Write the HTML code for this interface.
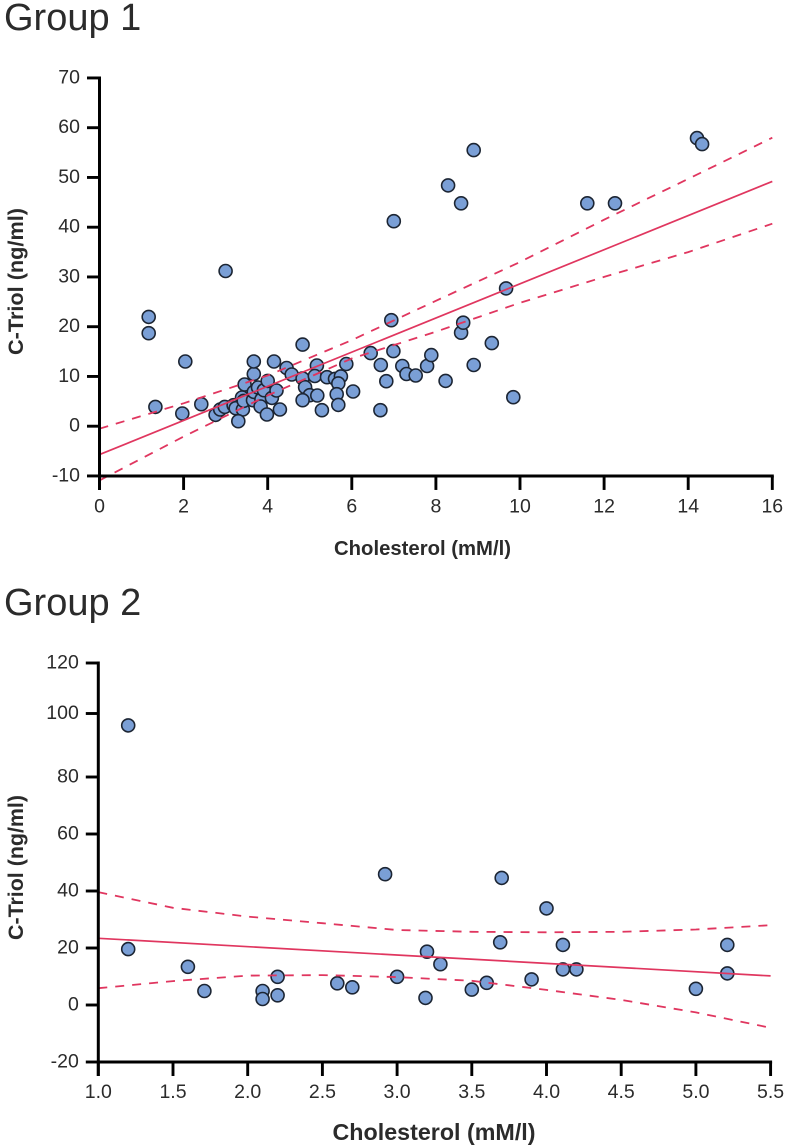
<!DOCTYPE html>
<html lang="en">
<head>
<meta charset="utf-8">
<title>C-Triol vs Cholesterol</title>
<style>
html,body{margin:0;padding:0;background:#fff;width:787px;height:1147px;overflow:hidden}
svg{display:block;font-family:"Liberation Sans",sans-serif}
</style>
</head>
<body>
<svg id="figure" width="787" height="1147" viewBox="0 0 787 1147" xmlns="http://www.w3.org/2000/svg">
  <text x="4" y="30" font-size="38" fill="#2b2b2b">Group 1</text>
  <text x="4" y="615" font-size="38" fill="#2b2b2b">Group 2</text>
  <g id="chart1"></g>
  <g id="chart2"></g>
</svg>
<script>
const g1PointsX = [1.17,1.17,1.33,1.97,2.04,2.42,3.0,2.76,2.87,2.98,3.19,3.24,3.41,3.30,3.39,3.43,3.45,3.65,3.67,3.67,3.67,3.77,3.85,3.83,3.91,4.0,3.98,4.1,4.21,4.29,4.15,4.45,4.57,4.83,4.83,4.89,5.0,4.83,5.18,5.17,5.12,5.29,5.41,5.6,5.74,5.68,5.64,5.68,5.87,6.03,6.45,6.69,6.82,6.68,6.99,6.94,7.0,7.2,7.3,7.52,7.79,7.89,8.23,8.29,8.6,8.6,8.65,8.9,8.9,9.33,9.67,9.84,11.6,12.26,14.21,14.33];
const g1PointsY = [21.97,18.7,3.88,2.55,13.0,4.43,31.2,2.27,3.36,3.88,4.22,3.62,3.36,1.0,5.77,5.09,8.38,5.23,6.9,10.5,13.0,7.78,5.37,3.96,7.24,9.1,2.35,5.69,7.18,3.36,13.0,11.7,10.4,16.4,9.6,7.84,6.23,5.23,6.17,12.2,10.1,3.22,9.85,9.5,10.0,8.6,6.43,4.28,12.5,6.98,14.7,12.3,9.05,3.22,15.1,21.3,41.2,12.1,10.5,10.2,12.1,14.3,9.1,48.4,44.8,18.8,20.8,55.5,12.3,16.7,27.7,5.83,44.8,44.8,57.9,56.7];
const g1FitX = [0,16];
const g1FitY = [-5.7,49.2];
const g1BandX = [0,2,4,6,8,10,12,14,16];
const g1UpperY = [-0.5,4.6,10.2,17.3,25.2,33,41.5,49.7,58];
const g1LowerY = [-10.9,-2.1,6.2,13.6,19,24.8,30,35,40.7];
const g1TicksX = [0,2,4,6,8,10,12,14,16];
const g1TicksY = [-10,0,10,20,30,40,50,60,70];

const g2PointsX = [1.2,1.2,1.6,1.71,2.10,2.10,2.2,2.2,2.6,2.7,2.92,3.0,3.19,3.2,3.29,3.5,3.6,3.69,3.7,3.9,4.0,4.11,4.11,4.2,5.0,5.21,5.21];
const g2PointsY = [98.1,19.6,13.4,4.9,4.9,2.1,9.9,3.4,7.6,6.2,45.9,9.9,2.5,18.7,14.3,5.4,7.8,22,44.6,9.0,33.9,21.1,12.5,12.5,5.7,21.1,11.1];
const g2FitX = [1,5.5];
const g2FitY = [23.4,10.2];
const g2BandX = [1,1.5,2,2.5,3,3.5,4,4.5,5,5.5];
const g2UpperY = [39.6,34.1,31,28.7,26.3,25.7,25.5,25.7,26.5,28];
const g2LowerY = [5.9,8.4,10.3,10.5,9.8,8.5,5.3,1.8,-2.6,-8];
const g2TicksX = [1,1.5,2,2.5,3,3.5,4,4.5,5,5.5];
const g2TicksY = [-20,0,20,40,60,80,100,120];
const xTitleText = "Cholesterol (mM/l)";
const yTitleText = "C-Triol (ng/ml)";

const NS = "http://www.w3.org/2000/svg";
function make(tag, attrs, parent, text) {
  const el = document.createElementNS(NS, tag);
  for (const k in attrs) el.setAttribute(k, attrs[k]);
  if (text !== undefined) el.textContent = text;
  parent.appendChild(el);
  return el;
}
function pathFrom(xs, ys, sx, sy) {
  return xs.map((v, i) => (i ? "L" : "M") + sx(v).toFixed(1) + " " + sy(ys[i]).toFixed(1)).join(" ");
}
function drawChart(cfg) {
  const root = document.getElementById(cfg.id);
  const sx = cfg.sx, sy = cfg.sy;
  const x0 = sx(cfg.ticksX[0]), x1 = sx(cfg.ticksX[cfg.ticksX.length - 1]);
  const yB = sy(cfg.ticksY[0]), yT = sy(cfg.ticksY[cfg.ticksY.length - 1]);

  const points = make("g", {}, root);
  
  
  cfg.px.forEach((v, i) => {
    const c = make("circle", {cx: sx(v).toFixed(1), cy: sy(cfg.py[i]).toFixed(1), r: 6.5, fill: "#7a9fd6", stroke: "#1c2533", "stroke-width": 1.6}, points);
    
    
  });

  const fit = make("path", {d: pathFrom(cfg.fitX, cfg.fitY, sx, sy), fill: "none", stroke: "#e0365f", "stroke-width": 1.7}, root);
  
  
  const up = make("path", {d: pathFrom(cfg.bandX, cfg.upper, sx, sy), fill: "none", stroke: "#e0365f", "stroke-width": 1.8, "stroke-dasharray": "9 8"}, root);
  
  
  const lo = make("path", {d: pathFrom(cfg.bandX, cfg.lower, sx, sy), fill: "none", stroke: "#e0365f", "stroke-width": 1.8, "stroke-dasharray": "9 8"}, root);
  
  

  const yAxis = make("g", {}, root);
  
  
  make("line", {x1: x0, x2: x0, y1: yT - 1.5, y2: yB + 14, stroke: "#000", "stroke-width": 3}, yAxis);
  cfg.ticksY.forEach(t => {
    const p = sy(t) + (cfg.tickShift && t === cfg.tickShift.value ? cfg.tickShift.by : 0);
    make("line", {x1: x0 - 12.5, x2: x0, y1: p, y2: p, stroke: "#000", "stroke-width": 2.9}, yAxis);
    const lab = make("text", {x: x0 - 19.5, y: p + 5.5, "font-size": 19.5, "text-anchor": "end", fill: "#2b2b2b"}, yAxis, String(t));
    
    
  });

  const xAxis = make("g", {}, root);
  
  
  make("line", {x1: x0, x2: x1 + 1.5, y1: yB, y2: yB, stroke: "#000", "stroke-width": 3}, xAxis);
  cfg.ticksX.forEach(t => {
    const p = sx(t);
    make("line", {x1: p, x2: p, y1: yB, y2: yB + 14, stroke: "#000", "stroke-width": 2.9}, xAxis);
    const lab = make("text", {x: p, y: cfg.xLabelY, "font-size": 19.5, "text-anchor": "middle", fill: "#2b2b2b"}, xAxis, cfg.xFmt(t));
    
    
  });

  const xt = make("text", {x: cfg.xTitle.x, y: cfg.xTitle.y, "font-size": cfg.xTitle.size, "font-weight": "bold", textLength: cfg.xTitle.len, lengthAdjust: "spacingAndGlyphs", fill: "#2b2b2b"}, root, xTitleText);
  
  
  const yt = make("text", {transform: "translate(" + cfg.yTitle.x + "," + cfg.yTitle.y + ") rotate(-90)", "font-size": 21, "font-weight": "bold", "text-anchor": "start", textLength: cfg.yTitle.len, lengthAdjust: "spacingAndGlyphs", fill: "#2b2b2b"}, root, yTitleText);
  
  
}

drawChart({
  id: "chart1",
  sx: v => 99.5 + v * 42.05,
  sy: v => 426.2 - v * 4.975,
  px: g1PointsX, py: g1PointsY,
  fitX: g1FitX, fitY: g1FitY,
  bandX: g1BandX, upper: g1UpperY, lower: g1LowerY,
  ticksX: g1TicksX, ticksY: g1TicksY,
  xFmt: t => String(t),
  xLabelY: 512.5,
  xTitle: {x: 334, y: 555, size: 20.5, len: 177},
  yTitle: {x: 23, y: 355, len: 147}
});
drawChart({
  id: "chart2",
  sx: v => 98.3 + (v - 1) * 149.4,
  sy: v => 1005 - v * 2.85,
  px: g2PointsX, py: g2PointsY,
  fitX: g2FitX, fitY: g2FitY,
  bandX: g2BandX, upper: g2UpperY, lower: g2LowerY,
  ticksX: g2TicksX, ticksY: g2TicksY,
  tickShift: {value: 100, by: -6.5},
  xFmt: t => t.toFixed(1),
  xLabelY: 1098,
  xTitle: {x: 332.5, y: 1140, size: 23, len: 203},
  yTitle: {x: 23, y: 940, len: 145}
});
</script>
</body>
</html>
